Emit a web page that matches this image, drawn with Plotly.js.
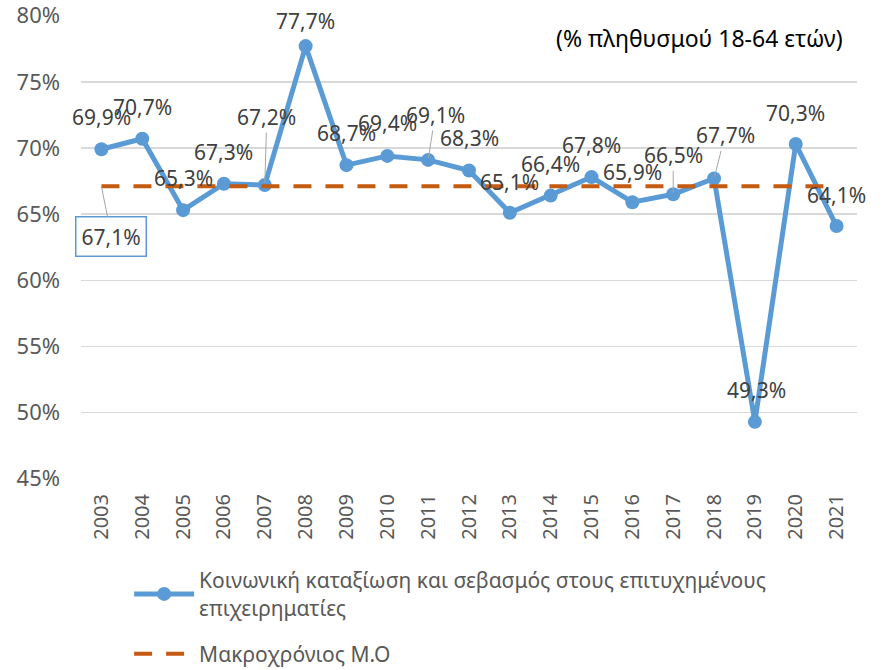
<!DOCTYPE html>
<html>
<head>
<meta charset="utf-8">
<script src="https://cdn.plot.ly/plotly-3.0.1.min.js"></script>
<style>html,body{margin:0;padding:0;background:#fff;}#chart{width:885px;height:670px;}</style>
</head>
<body>
<div id="chart"></div>
<script>
const years = ["2003","2004","2005","2006","2007","2008","2009","2010","2011","2012","2013","2014","2015","2016","2017","2018","2019","2020","2021"];
const values = [69.9,70.7,65.3,67.3,67.2,77.7,68.7,69.4,69.1,68.3,65.1,66.4,67.8,65.9,66.5,67.7,49.3,70.3,64.1];
const average = [67.1,67.1,67.1,67.1,67.1,67.1,67.1,67.1,67.1,67.1,67.1,67.1,67.1,67.1,67.1,67.1,67.1,67.1,67.1];
const averageLabelValue = 67.1;
const seriesName = "Κοινωνική καταξίωση και σεβασμός στους επιτυχημένους<br>επιχειρηματίες";
const averageName = "Μακροχρόνιος Μ.Ο";
const noteText = "(% πληθυσμού 18-64 ετών)";
const yTicks = [45,50,55,60,65,70,75,80];

// label placement (pixel offsets from each point) and which labels have leader lines
const labelDx = [0,0,0,0,2,0,0,0,7,0,0,0,0,0,0,11,2,0,0];
const labelDy = [-32,-32,-32,-32,-68,-25,-32,-33,-45,-32,-31,-32,-32,-30,-39,-43,-32,-31,-31];
const leader  = [0,0,0,0,1,0,0,0,1,0,0,0,0,0,1,1,0,0,0];

const fmt = v => v.toFixed(1).replace('.', ',') + '%';
const FONT = "Noto Sans, Open Sans, DejaVu Sans, sans-serif";

const annotations = values.map((v,i) => {
  const base = {x: i, y: v, xref:'x', yref:'y', text: fmt(v),
    font:{family:FONT, size:21, color:'#404040'}};
  if (leader[i]) {
    return Object.assign(base, {showarrow:true, arrowhead:0, arrowwidth:1, arrowcolor:'#A6A6A6',
      ax: labelDx[i], ay: labelDy[i], standoff: 2});
  }
  return Object.assign(base, {showarrow:false, xshift: labelDx[i], yshift: -labelDy[i]});
});
annotations.push({x: 0, y: averageLabelValue, xref:'x', yref:'y', text: fmt(averageLabelValue),
  showarrow:true, arrowhead:0, arrowwidth:1, arrowcolor:'#A6A6A6', ax:10, ay:50, standoff:0,
  bordercolor:'#5B9BD5', borderwidth:1.5, borderpad:5, bgcolor:'#ffffff',
  font:{family:FONT, size:21, color:'#404040'}});
annotations.push({x: 0.985, y: 1, xref:'paper', yref:'paper', xanchor:'right', yanchor:'middle',
  yshift: -23, text: noteText, showarrow:false, font:{family:FONT, size:23, color:'#000000'}});

const traces = [
  {x: years, y: values, type:'scatter', mode:'lines+markers', name: seriesName, legendgroup:'a',
   line:{color:'#5B9BD5', width:5}, marker:{color:'#5B9BD5', size:14}, cliponaxis:false},
  {x: years, y: average, type:'scatter', mode:'lines', name: averageName, legendgroup:'b',
   line:{color:'#C55A11', width:4, dash:'18px,14px'}}
];

const layout = {
  width:885, height:670,
  margin:{l:81, r:28, t:15, b:191},
  paper_bgcolor:'#ffffff', plot_bgcolor:'#ffffff',
  font:{family:FONT, color:'#595959', size:20},
  showlegend:true,
  legend:{orientation:'v', x:0.062, xanchor:'left', yref:'container', y:0.164, yanchor:'top',
    font:{family:FONT, size:21, color:'#595959'}, itemwidth:60, tracegroupgap:16},
  xaxis:{type:'category', range:[-0.5, 18.5], autorange:false, tickangle:-90, showgrid:false,
    zeroline:false, showline:false, ticks:'', ticklabelstandoff:10, tickfont:{size:20, color:'#595959'}},
  yaxis:{range:[44.98,80.05], autorange:false, tickvals:yTicks, ticktext: yTicks.map(t=>t+'%'), showgrid:true,
    gridcolor:'#D9D9D9', gridwidth:1.5, zeroline:false, showline:false, ticks:'',
    ticklabeloverflow:'allow', ticklabelstandoff:20, tickfont:{size:22, color:'#595959'}},
  annotations: annotations
};

Plotly.newPlot('chart', traces, layout, {displayModeBar:false, staticPlot:true});
</script>
</body>
</html>
